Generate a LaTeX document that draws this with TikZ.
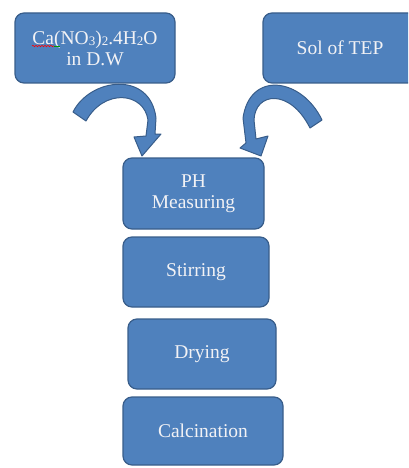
\documentclass[tikz,border=0pt]{standalone}
\usepackage{fontspec}
\setmainfont{Liberation Serif}
\usetikzlibrary{decorations.pathmorphing}
\definecolor{boxfill}{RGB}{79,129,189}
\definecolor{boxline}{RGB}{56,93,138}
\definecolor{txt}{RGB}{242,242,245}
\newcommand{\sbs}[1]{{\fontsize{13}{13}\selectfont\raisebox{-1.5pt}{#1}}}
\tikzset{
  box/.style={draw=boxline, fill=boxfill, rounded corners=9pt, line width=1.2pt,
    text=txt, align=center, inner sep=0pt, font=\fontsize{19.5}{21}\selectfont},
  bigarrow/.style={draw=boxline, fill=boxfill, line width=1pt, line join=round}
}
\begin{document}
\begin{tikzpicture}[x=1pt,y=-1pt]
\useasboundingbox (0,0) rectangle (408,468);
\clip (0,0) rectangle (408,468);
\node[box, minimum width=160pt, minimum height=70pt] (b1) at (95,48)
  {Ca(NO\sbs{3})\sbs{2}.4H\sbs{2}O\\in D.W};
\node[box, minimum width=154pt, minimum height=70pt] (b2) at (340,48) {Sol of TEP};
\node[box, minimum width=141pt, minimum height=71pt] (ph) at (193.5,193.5) {PH\\Measuring};
\node[box, minimum width=146pt, minimum height=70pt] (stir) at (196,272) {Stirring};
\node[box, minimum width=148pt, minimum height=70pt] (dry) at (202,354) {Drying};
\node[box, minimum width=160pt, minimum height=68pt] (calc) at (203,431) {Calcination};
% spell-check marks
\draw[red, line width=0.6pt, decorate, decoration={snake, amplitude=0.7pt, segment length=3pt}]
  (32,46) -- (54,46);
\draw[green!60!black, line width=0.6pt] (54,46) -- (60,46);
% left curved arrow
\draw[bigarrow] (73,112) .. controls (90,78) and (150,70) .. (156,118)
  -- (155,134) -- (161,134) -- (142,156) -- (134,137) -- (146,136)
  -- (148,120) .. controls (144,92) and (104,88) .. (86,121) -- cycle;
% right curved arrow
\draw[bigarrow] (322,120) .. controls (302,78) and (250,70) .. (243,118)
  -- (246,143) -- (240,148) -- (261,156) -- (268,136) -- (256,139)
  -- (254,120) .. controls (255,92) and (290,88) .. (310,128) -- cycle;
\end{tikzpicture}
\end{document}
